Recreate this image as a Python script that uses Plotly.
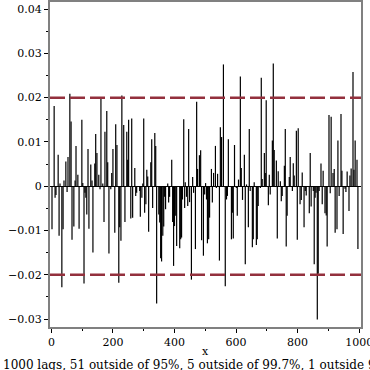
import plotly.graph_objects as go

lags = [2, 9, 12, 15, 22, 25, 28, 34, 38, 41, 47, 51, 54, 60, 64, 67, 73, 77, 80, 86, 90, 99, 102, 106, 109, 112, 115, 119, 122, 128, 132, 135, 141,
        144, 148, 154, 158, 161, 167, 171, 174, 180, 183, 187, 193, 196, 200, 206, 209, 213, 219, 222, 226, 229, 235, 239, 245, 248, 251, 258, 261, 264, 271, 274, 277, 287,
        289, 294, 297, 300, 303, 307, 310, 313, 316, 323, 326, 329, 336, 339, 342, 349, 352, 355, 358, 362, 365, 368, 371, 378, 381, 384, 391, 394, 397, 400, 404, 407, 417, 420, 423, 426, 430, 433,
        435, 439, 443, 446, 449, 455, 459, 462, 468, 472, 475, 481, 485, 488, 494, 498, 501, 504, 507, 511, 514, 520, 523, 527, 533, 536, 540, 546, 549, 553, 559, 565, 569, 572, 575,
        585, 588, 591, 595, 601, 604, 608, 614, 617, 621, 627, 630, 634, 640, 643, 646, 653, 656, 659, 666, 669, 672, 679, 682, 685, 692, 695, 698, 705, 708, 711, 718, 721, 724,
        731, 734, 737, 744, 747, 750, 757, 760, 763, 766, 773, 776, 783, 786, 789, 796, 799, 802, 808, 812, 815, 821, 825, 828, 838, 841, 844, 851, 854, 857, 860, 864, 867, 870,
        876, 880, 883, 889, 893, 896, 902, 906, 909, 915, 919, 922, 928, 931, 935, 941, 944, 948, 954, 957, 961, 967, 970, 974, 980, 983, 987, 993, 996]

acf = [-0.0097, 0.0181, -0.0026, -0.002, 0.0071, -0.0112, 0.0006, -0.0228, -0.0097, 0.0013, 0.0056, -0.0013, 0.0066, 0.0209, 0.0146, -0.0121, -0.0091, 0.0013, 0.0091, 0.0026, -0.0096, 0.015, 0.0007, -0.022, -0.0015, -0.0026, -0.0064, 0.0084, -0.0096, 0.0049, 0.0013, -0.015, 0.0051,
       0.0118, 0.0075, 0.0026, -0.0007, 0.0198, 0.0006, -0.0081, 0.0123, 0.017, 0.0054, -0.0152, -0.0007, 0.003, 0.0084, -0.0105, 0.014, 0.0093, -0.0218, -0.0093, -0.0123, 0.0205, 0.0138, -0.0081, 0.0123, 0.006, 0.015, -0.0073, 0.0153, -0.0071, 0.0041, -0.0022, -0.0015, -0.0011,
       -0.0069, -0.0026, 0.0006, 0.0153, -0.006, -0.0041, 0.0037, 0.0022, -0.0103, 0.0054, 0.0106, -0.0049, 0.012, 0.0091, -0.0265, -0.0064, -0.0082, -0.0163, -0.017, -0.0112, -0.0091, -0.0024, -0.0052, 0.0006, -0.0037, -0.0024, 0.006, -0.0081, -0.018, -0.009, -0.0067, -0.0135, -0.014, -0.012, -0.0116, -0.003, 0.0151, -0.0049,
       0.0009, -0.0024, -0.0045, 0.0129, -0.0036, -0.0211, 0.0021, -0.0015, -0.0142, 0.0191, 0.0039, 0.007, 0.0081, -0.0122, -0.0157, -0.0019, 0.0007, -0.003, -0.0129, -0.012, -0.0071, 0.0039, -0.0037, 0.003, 0.0091, -0.0004, 0.0028, -0.0168, 0.0133, 0.0111, 0.0275, -0.0226, -0.003, -0.0022, 0.0106,
       -0.012, -0.006, -0.0118, 0.0093, -0.0004, -0.0067, 0.0015, 0.0248, 0.0041, -0.0031, 0.0071, -0.0176, 0.0004, -0.0093, 0.0129, -0.0011, -0.0138, -0.012, 0.0009, -0.0133, -0.012, -0.0045, -0.0004, 0.0245, 0.0016, 0.0075, 0.003, 0.0194, -0.0043, 0.0026, -0.0019, 0.0103, 0.0277, 0.0082,
       0.0058, -0.0118, 0.0034, 0.0011, -0.0034, -0.0022, 0.0046, 0.0129, -0.0136, -0.0067, 0.0021, 0.0066, -0.0011, 0.0052, 0.0024, 0.0125, -0.0121, 0.0131, -0.0041, -0.0031, 0.0031, -0.0093, -0.0011, -0.0021, -0.0061, 0.0075, -0.0046, -0.0011, -0.0176, -0.0026, -0.0015, -0.0301, -0.0198, -0.0011,
       0.0051, -0.0041, 0.0035, -0.0061, -0.0066, -0.0136, 0.0161, -0.0016, 0.0157, 0.003, 0.0039, -0.0105, -0.0097, 0.0103, -0.0022, 0.0163, 0.0035, -0.0108, -0.0006, -0.0013, 0.0033, -0.0056, 0.0024, 0.004, 0.0258, 0.0037, 0.0103, 0.006, -0.0142]

bound = 0.02
x_title = "x"
caption = "1000 lags, 51 outside of 95%, 5 outside of 99.7%, 1 outside 99.9%"

xs, ys = [], []
for k, v in zip(lags, acf):
    xs += [k, k, None]
    ys += [0, v, None]

FONT = "DejaVu Serif"
fig = go.Figure()
fig.add_trace(go.Scatter(x=xs, y=ys, mode="lines", line=dict(color="black", width=1.2),
                         hoverinfo="skip", showlegend=False))

for b in (bound, -bound):
    fig.add_shape(type="line", xref="paper", x0=0, x1=1, yref="y", y0=b, y1=b,
                  line=dict(color="#93303d", width=2.5, dash="15px,5px"))

W = H = 370
L, R, T, B = 50, 9, 2, 43
PW, PH = W - L - R, H - T - B


def px_to_paper(px, py):
    return (px - L) / PW, ((H - B) - py) / PH


fig.update_layout(
    width=W, height=H,
    margin=dict(l=L, r=R, t=T, b=B),
    paper_bgcolor="white", plot_bgcolor="white",
    font=dict(family=FONT, size=11, color="black"),
    xaxis=dict(range=[-4.5, 1006], tickvals=[0, 200, 400, 600, 800, 1000],
               ticks="outside", ticklen=4, tickcolor="black", automargin=False,
               ticklabeloverflow="allow",
               minor=dict(tickvals=[100, 300, 500, 700, 900], ticks="outside", ticklen=2, tickcolor="black"),
               showgrid=False, zeroline=False, showline=True, linecolor="#808080", linewidth=2, mirror=True),
    yaxis=dict(range=[-0.0318, 0.0416], dtick=0.01, tick0=0, automargin=False,
               ticklabeloverflow="allow",
               ticks="outside", ticklen=4, tickcolor="black",
               minor=dict(dtick=0.005, ticks="outside", ticklen=2, tickcolor="black"),
               showgrid=False, zeroline=True, zerolinecolor="black", zerolinewidth=1,
               showline=True, linecolor="#808080", linewidth=2, mirror=True),
)

tx, ty = px_to_paper(205, 351)
fig.add_annotation(text=x_title, xref="paper", yref="paper", x=tx, y=ty,
                   xanchor="center", yanchor="middle", showarrow=False,
                   font=dict(family=FONT, size=11, color="black"))

cx, cy = px_to_paper(1, 365)
fig.add_annotation(text=caption, xref="paper", yref="paper", x=cx, y=cy,
                   xanchor="left", yanchor="middle", showarrow=False,
                   font=dict(family=FONT, size=12, color="black"))

fig.write_html("out.html", config={"displayModeBar": False},
               post_script="document.body.style.margin='0px';document.body.style.overflow='hidden';")
